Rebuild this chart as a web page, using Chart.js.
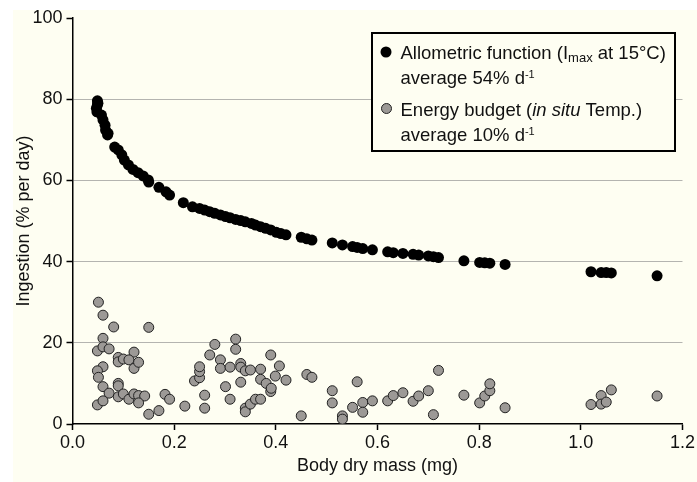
<!DOCTYPE html>
<html>
<head>
<meta charset="utf-8">
<script src="https://cdn.jsdelivr.net/npm/chart.js@4"></script>
<style>
  html, body { margin: 0; padding: 0; background: #ffffff; }
  #wrap { width: 697px; height: 482px; }
</style>
</head>
<body>
<div id="wrap"><canvas id="c" width="697" height="482"></canvas></div>
<script>
// ---- Data ----
const allometricX = [0.047, 0.048, 0.049, 0.049, 0.050, 0.057, 0.060, 0.064, 0.065, 0.069,
  0.070, 0.083, 0.090, 0.097, 0.102, 0.110, 0.119, 0.129, 0.139, 0.149,
  0.150, 0.170, 0.184, 0.191, 0.218, 0.236, 0.250, 0.260, 0.270, 0.280,
  0.291, 0.301, 0.310, 0.321, 0.331, 0.340, 0.352, 0.360, 0.370, 0.380,
  0.390, 0.401, 0.410, 0.420, 0.450, 0.461, 0.471, 0.511, 0.531, 0.551,
  0.560, 0.571, 0.590, 0.620, 0.631, 0.650, 0.670, 0.681, 0.700, 0.710,
  0.720, 0.770, 0.801, 0.811, 0.821, 0.851, 1.020, 1.040, 1.050, 1.060, 1.150];
const allometricY = [77.8, 76.9, 79.6, 78.6, 79.0, 76.1, 74.9, 73.6, 72.4, 71.2,
  71.6, 68.2, 67.5, 66.3, 65.0, 63.8, 62.7, 61.9, 61.1, 60.1,
  59.6, 58.3, 57.2, 56.4, 54.5, 53.5, 53.1, 52.7, 52.3, 51.9,
  51.5, 51.1, 50.8, 50.4, 50.1, 49.8, 49.4, 49.0, 48.6, 48.2,
  47.8, 47.2, 46.9, 46.6, 46.0, 45.6, 45.3, 44.6, 44.1, 43.7,
  43.5, 43.2, 42.9, 42.4, 42.2, 42.0, 41.8, 41.6, 41.4, 41.2,
  41.0, 40.2, 39.8, 39.7, 39.6, 39.3, 37.5, 37.3, 37.3, 37.2, 36.5];

const budgetX = [0.051, 0.060, 0.081, 0.150, 0.060, 0.049, 0.060, 0.072, 0.090, 0.090,
  0.100, 0.121, 0.111, 0.121, 0.130, 0.060, 0.049, 0.051, 0.060, 0.072,
  0.049, 0.060, 0.090, 0.090, 0.090, 0.100, 0.111, 0.121, 0.130, 0.142,
  0.130, 0.150, 0.170, 0.182, 0.191, 0.221, 0.240, 0.250, 0.250, 0.250,
  0.260, 0.260, 0.270, 0.280, 0.291, 0.291, 0.301, 0.310, 0.310, 0.321,
  0.321, 0.331, 0.331, 0.331, 0.340, 0.340, 0.340, 0.350, 0.350, 0.360,
  0.370, 0.370, 0.370, 0.381, 0.390, 0.391, 0.390, 0.399, 0.407, 0.420,
  0.450, 0.461, 0.471, 0.511, 0.511, 0.531, 0.531, 0.551, 0.560, 0.571,
  0.571, 0.590, 0.620, 0.631, 0.650, 0.670, 0.681, 0.700, 0.710, 0.720,
  0.770, 0.801, 0.811, 0.821, 0.821, 0.851, 1.020, 1.040, 1.040, 1.050,
  1.060, 1.150];
const budgetY = [30.0, 26.8, 23.9, 23.8, 21.1, 18.0, 19.0, 18.5, 16.4, 15.3,
  16.0, 17.7, 15.8, 13.7, 15.2, 14.1, 13.1, 11.5, 9.2, 7.6,
  4.7, 5.7, 10.0, 9.4, 6.7, 7.4, 6.1, 7.4, 7.0, 6.9,
  5.2, 2.4, 3.3, 7.3, 6.1, 4.4, 10.6, 11.4, 12.9, 14.1,
  7.1, 3.9, 17.0, 19.6, 15.8, 13.7, 9.2, 6.1, 14.0, 20.9,
  18.4, 14.9, 14.0, 10.3, 13.1, 3.9, 3.0, 13.3, 4.9, 6.1,
  13.5, 11.0, 6.1, 10.0, 8.0, 8.8, 17.0, 11.8, 14.3, 10.8,
  2.0, 12.2, 11.5, 8.2, 5.2, 2.0, 1.2, 4.1, 10.4, 5.3,
  2.9, 5.7, 5.7, 7.0, 7.7, 5.6, 6.9, 8.2, 2.3, 13.2,
  7.1, 5.2, 6.9, 8.2, 9.9, 4.0, 4.8, 7.0, 4.9, 5.4,
  8.4, 6.9];

const xTickLabels = ['0.0', '0.2', '0.4', '0.6', '0.8', '1.0', '1.2'];
const yTickLabels = ['0', '20', '40', '60', '80', '100'];

// ---- Styling ----
const FONT = 'Liberation Sans, Arial, Helvetica, sans-serif';
const CREAM = '#fefef2';
const TXT = '#111111';

const bgPlugin = {
  id: 'bg',
  beforeDraw(chart) {
    const ctx = chart.ctx;
    ctx.save();
    ctx.fillStyle = '#ffffff';
    ctx.fillRect(0, 0, chart.width, chart.height);
    ctx.fillStyle = CREAM;
    ctx.fillRect(13, 10, chart.width - 13, chart.height - 10);
    ctx.restore();
  }
};

const legendPlugin = {
  id: 'richLegend',
  afterDraw(chart) {
    const ctx = chart.ctx;
    ctx.save();
    const x0 = 372, y0 = 33, w = 303, h = 118;
    ctx.fillStyle = CREAM;
    ctx.fillRect(x0, y0, w, h);
    ctx.lineWidth = 2;
    ctx.strokeStyle = '#000';
    ctx.strokeRect(x0, y0, w, h);

    // markers
    ctx.beginPath();
    ctx.arc(386, 52, 5.5, 0, Math.PI * 2);
    ctx.fillStyle = '#000';
    ctx.fill();
    ctx.beginPath();
    ctx.arc(386.5, 108.5, 5, 0, Math.PI * 2);
    ctx.fillStyle = '#9c9996';
    ctx.fill();
    ctx.lineWidth = 1;
    ctx.strokeStyle = '#222';
    ctx.stroke();

    ctx.fillStyle = TXT;
    ctx.textBaseline = 'alphabetic';
    ctx.textAlign = 'left';
    function runs(x, y, parts) {
      for (const p of parts) {
        ctx.font = (p.style || '') + ' ' + (p.size || 18.5) + 'px ' + FONT;
        ctx.fillText(p.t, x, y + (p.dy || 0));
        x += ctx.measureText(p.t).width;
      }
    }
    const tx = 400.5;
    runs(tx, 58.5, [{t: 'Allometric function (I'}, {t: 'max', size: 13, dy: 3}, {t: ' at 15°C)'}]);
    runs(tx, 84, [{t: 'average 54% d'}, {t: '-1', size: 11, dy: -6}]);
    runs(tx, 115.5, [{t: 'Energy budget ('}, {t: 'in situ', style: 'italic'}, {t: ' Temp.)'}]);
    runs(tx, 140.5, [{t: 'average 10% d'}, {t: '-1', size: 11, dy: -6}]);
    ctx.restore();
  }
};

const tickFont = { family: FONT, size: 18 };

new Chart(document.getElementById('c'), {
  type: 'scatter',
  data: {
    datasets: [
      {
        label: 'Allometric function (Imax at 15°C) average 54% d-1',
        data: allometricX.map((x, i) => ({ x: x, y: allometricY[i] })),
        pointRadius: 5.5,
        pointBackgroundColor: '#000000',
        pointBorderColor: '#000000',
        pointBorderWidth: 0,
        showLine: false
      },
      {
        label: 'Energy budget (in situ Temp.) average 10% d-1',
        data: budgetX.map((x, i) => ({ x: x, y: budgetY[i] })),
        pointRadius: 5,
        pointBackgroundColor: '#9c9996',
        pointBorderColor: '#222222',
        pointBorderWidth: 1,
        showLine: false
      }
    ]
  },
  options: {
    responsive: false,
    animation: false,
    devicePixelRatio: 1,
    layout: { padding: { left: 0, right: 13, top: 18, bottom: 0 } },
    plugins: { legend: { display: false }, tooltip: { enabled: false } },
    scales: {
      x: {
        type: 'linear',
        min: 0, max: 1.2,
        ticks: {
          stepSize: 0.2,
          autoSkip: false,
          maxRotation: 0,
          padding: 2,
          color: TXT,
          font: tickFont,
          callback: (v, i) => xTickLabels[i]
        },
        grid: { drawOnChartArea: false, drawTicks: true, tickLength: 6, tickColor: '#000', tickWidth: 1.5 },
        border: { color: '#000', width: 1.5 },
        title: { display: true, text: 'Body dry mass (mg)', color: TXT, font: tickFont, padding: { top: 0, bottom: 5 } },
        afterFit(s) { s.height = 58; }
      },
      y: {
        type: 'linear',
        min: 0, max: 100,
        ticks: {
          stepSize: 20,
          padding: 4,
          color: TXT,
          font: tickFont,
          callback: (v, i) => yTickLabels[i]
        },
        grid: {
          color: (c) => (c.tick && (c.tick.value === 0 || c.tick.value === 100)) ? 'rgba(0,0,0,0)' : '#b4b4b0',
          lineWidth: 1,
          drawTicks: true,
          tickLength: 6,
          tickColor: '#000',
          tickWidth: 1.5
        },
        border: { color: '#000', width: 1.5 },
        title: { display: true, text: 'Ingestion (% per day)', color: TXT, font: tickFont, padding: { top: 13, bottom: 0 } },
        afterFit(s) { s.width = 72.5; }
      }
    }
  },
  plugins: [bgPlugin, legendPlugin]
});
</script>
</body>
</html>
